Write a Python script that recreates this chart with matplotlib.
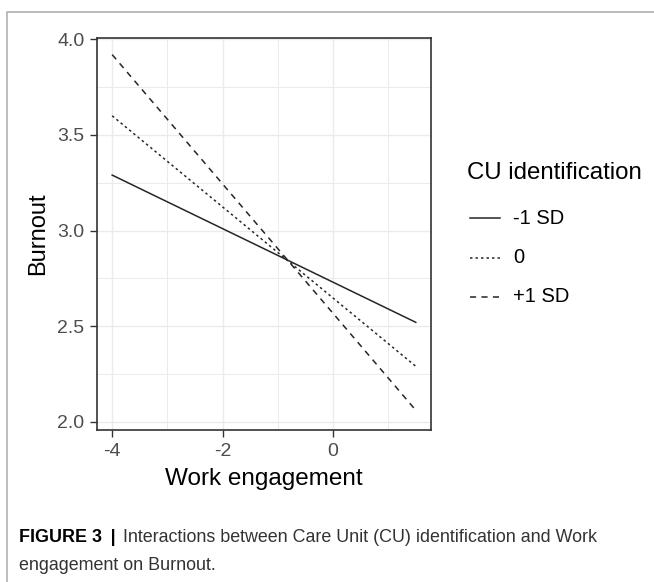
import matplotlib
matplotlib.use("Agg")
import matplotlib.pyplot as plt
from matplotlib.lines import Line2D

plt.rcParams["font.family"] = ["Liberation Sans", "DejaVu Sans"]

# simple slopes: Burnout at the ends of the Work engagement range
WORK = [-4.0, 1.5]
GROUPS = ["-1 SD", "0", "+1 SD"]
BURNOUT = {
    "-1 SD": [3.29, 2.52],
    "0": [3.60, 2.29],
    "+1 SD": [3.92, 2.06],
}
STYLES = {"-1 SD": "-", "0": (0, (1.6, 2.0)), "+1 SD": (0, (4, 3.5))}
X_TICKS = [-4, -2, 0]
X_MINOR = [-3, -1, 1]
Y_TICKS = [2.0, 2.5, 3.0, 3.5, 4.0]
Y_MINOR = [2.25, 2.75, 3.25, 3.75]

INK = "#262626"
TICKC = "#4d4d4d"
GRID = "#ebebeb"

fig = plt.figure(figsize=(6.54, 5.82), dpi=100)
ax = fig.add_axes([97 / 654, 1 - 430 / 582, 334 / 654, 392 / 582])

for x in X_TICKS + X_MINOR:
    ax.axvline(x, color=GRID, lw=1.0 if x in X_TICKS else 0.7, zorder=0)
for y in Y_TICKS + Y_MINOR:
    ax.axhline(y, color=GRID, lw=1.0 if y in Y_TICKS else 0.7, zorder=0)

for g in GROUPS:
    ax.plot(WORK, BURNOUT[g], color=INK, lw=1.1, ls=STYLES[g])

ax.set_xlim(-4.275, 1.775)
ax.set_ylim(1.957, 4.007)
ax.set_xticks(X_TICKS)
ax.set_xticklabels(["-4", "-2", "0"])
ax.set_yticks(Y_TICKS)
ax.set_yticklabels([f"{v:.1f}" for v in Y_TICKS])
ax.tick_params(length=5, width=1, color="#333333", labelcolor=TICKC,
               labelsize=14)
ax.tick_params(axis="x", pad=4)
ax.tick_params(axis="y", pad=4)
for s in ax.spines.values():
    s.set_color("#333333")
    s.set_linewidth(1.2)
ax.set_xlabel("Work engagement", fontsize=17.5, color="black")
ax.set_ylabel("Burnout", fontsize=17, color="black")
ax.xaxis.set_label_coords(0.5, (430 - 479) / 392, transform=ax.transAxes)
ax.xaxis.label.set_va("center")
ax.yaxis.set_label_coords((38 - 97) / 334, 0.5, transform=ax.transAxes)
ax.yaxis.label.set_va("center")

# legend drawn by hand to keep ggplot-like spacing
fig.text(467 / 654, 1 - 173 / 582, "CU identification", fontsize=17.3,
         va="center", ha="left")
for i, g in enumerate(GROUPS):
    yy = 1 - (218 + 39.5 * i) / 582
    fig.add_artist(Line2D([470 / 654, 500 / 654], [yy, yy], color=INK,
                          lw=1.1, ls=STYLES[g]))
    fig.text(513 / 654, yy, g, fontsize=14.5, va="center", ha="left")

# outer frame of the figure panel
fig.add_artist(Line2D([7 / 654, 7 / 654, 1], [0, 1 - 12 / 582, 1 - 12 / 582],
                      color="#b0b0b0", lw=1.2))

# caption
r = fig.canvas.get_renderer()
t1 = fig.text(19 / 654, 1 - 538 / 582, "FIGURE 3 \u2009| ", fontsize=12.9,
              fontweight="bold", va="center", ha="left")
w = t1.get_window_extent(r).width
fig.text((21 + w) / 654, 1 - 538 / 582,
         "Interactions between Care Unit (CU) identification and Work",
         fontsize=12.9, va="center", ha="left", color="#333333")
fig.text(19 / 654, 1 - 565 / 582, "engagement on Burnout.", fontsize=12.9,
         va="center", ha="left", color="#333333")

fig.savefig("out.png", dpi=100)
